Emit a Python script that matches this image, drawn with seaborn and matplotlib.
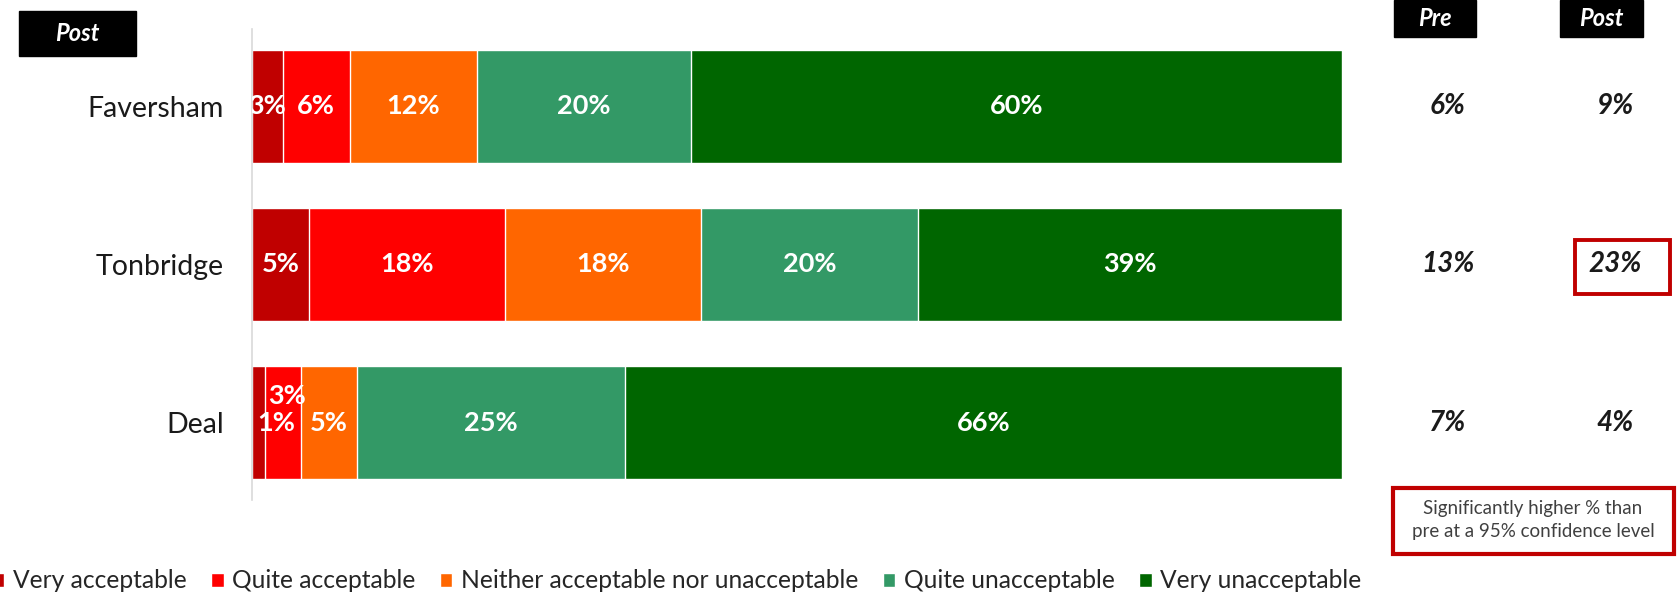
import matplotlib
matplotlib.use("Agg")
import matplotlib.pyplot as plt
import matplotlib.transforms as mtransforms
from matplotlib.patches import Rectangle
import seaborn as sns
import numpy as np

# ---- data ----
towns = ["Faversham", "Tonbridge", "Deal"]
categories = ["Very acceptable", "Quite acceptable",
              "Neither acceptable nor unacceptable",
              "Quite unacceptable", "Very unacceptable"]
very_acceptable = [2.8, 5.2, 1.2]
quite_acceptable = [6.2, 18.0, 3.3]
neither = [11.6, 18.0, 5.1]
quite_unacceptable = [19.7, 19.9, 24.6]
very_unacceptable = [59.7, 38.9, 65.8]
pre_pct = [6, 13, 7]
post_pct = [9, 23, 4]
significant = [False, True, False]
colors = ["#C00000", "#FF0000", "#FF6600", "#339966", "#006600"]

series = [very_acceptable, quite_acceptable, neither, quite_unacceptable, very_unacceptable]

sns.set_style("white")
plt.rcParams["font.family"] = ["Lato", "DejaVu Sans"]

W, H = 1677, 592
fig = plt.figure(figsize=(W / 100, H / 100), dpi=100)
ax = fig.add_axes([252 / W, (H - 500) / H, 1090 / W, 471 / H])

vals = np.array(series)
cum = np.cumsum(vals, axis=0)

# draw stacked bars: largest cumulative first so later ones overlay
for i in reversed(range(len(categories))):
    sns.barplot(x=cum[i], y=towns, color=colors[i], orient="h", width=0.71,
                edgecolor="white", linewidth=1.0, label=categories[i], ax=ax,
                saturation=1)
if ax.get_legend() is not None:
    ax.get_legend().remove()

ax.set_xlim(0, 100)
ax.set_ylim(2.49, -0.49)
ax.set_xlabel("")
ax.set_ylabel("")
ax.set_xticks([])
ax.tick_params(axis="y", length=0, labelsize=20.5, pad=20, colors="#1a1a1a")
for s in ["top", "right", "bottom"]:
    ax.spines[s].set_visible(False)
ax.spines["left"].set_color("#D9D9D9")
ax.spines["left"].set_linewidth(1.2)

# data labels
offsets = {(2, 0): (13, 0), (2, 1): (3, 19)}
for i in range(len(categories)):
    for j in range(len(towns)):
        v = vals[i, j]
        cx = cum[i, j] - v / 2
        dx, dy = offsets.get((j, i), (0, 0))
        ax.annotate(f"{round(v):d}%", xy=(cx, j), xytext=(dx, dy),
                    textcoords="offset points", ha="center", va="center",
                    color="white", fontsize=19.5, fontweight="bold",
                    annotation_clip=False, clip_on=True)

# right-hand Pre / Post columns
blend = mtransforms.blended_transform_factory(fig.transFigure, ax.transData)
for j in range(len(towns)):
    fig.text(1448 / W, j, f"{pre_pct[j]}%", transform=blend, ha="center", va="center",
             fontsize=20, fontweight="bold", fontstyle="italic", color="#1a1a1a")
    fig.text(1615 / W, j, f"{post_pct[j]}%", transform=blend, ha="center", va="center",
             fontsize=20, fontweight="bold", fontstyle="italic", color="#1a1a1a")
    if significant[j]:
        fig.patches.append(Rectangle((1575 / W, (H - 294) / H), 95 / W, 54 / H,
                                     transform=fig.transFigure, fill=False,
                                     edgecolor="#C00000", linewidth=2.8))

# header boxes
def header(x0, y0, x1, y1, txt):
    fig.patches.append(Rectangle((x0 / W, (H - y1) / H), (x1 - x0) / W, (y1 - y0) / H,
                                 transform=fig.transFigure, facecolor="black",
                                 edgecolor="black"))
    fig.text((x0 + x1) / 2 / W, (H - (y0 + y1) / 2) / H, txt, ha="center", va="center",
             color="white", fontsize=17, fontweight="bold", fontstyle="italic")

header(1394, 0, 1476, 37, "Pre")
header(1560, 0, 1643, 37, "Post")
header(19, 11, 136, 56, "Post")

# note box
fig.patches.append(Rectangle((1393 / W, (H - 554) / H), 281 / W, 66 / H,
                             transform=fig.transFigure, fill=False,
                             edgecolor="#C00000", linewidth=3))
fig.text(1533 / W, (H - 520) / H, "Significantly higher % than\npre at a 95% confidence level",
         ha="center", va="center", fontsize=13.5, color="#404040", linespacing=1.45)

# legend
h, l = ax.get_legend_handles_labels()
order = [l.index(c) for c in categories]
fig.legend([h[k] for k in order], [l[k] for k in order], loc="center left",
           bbox_to_anchor=(-8 / W, (H - 581) / H), ncol=5, frameon=False,
           fontsize=17.7, handlelength=0.5, handleheight=0.5, handletextpad=0.35,
           columnspacing=1.0, borderaxespad=0, borderpad=0)

fig.savefig("out.png", dpi=100)
